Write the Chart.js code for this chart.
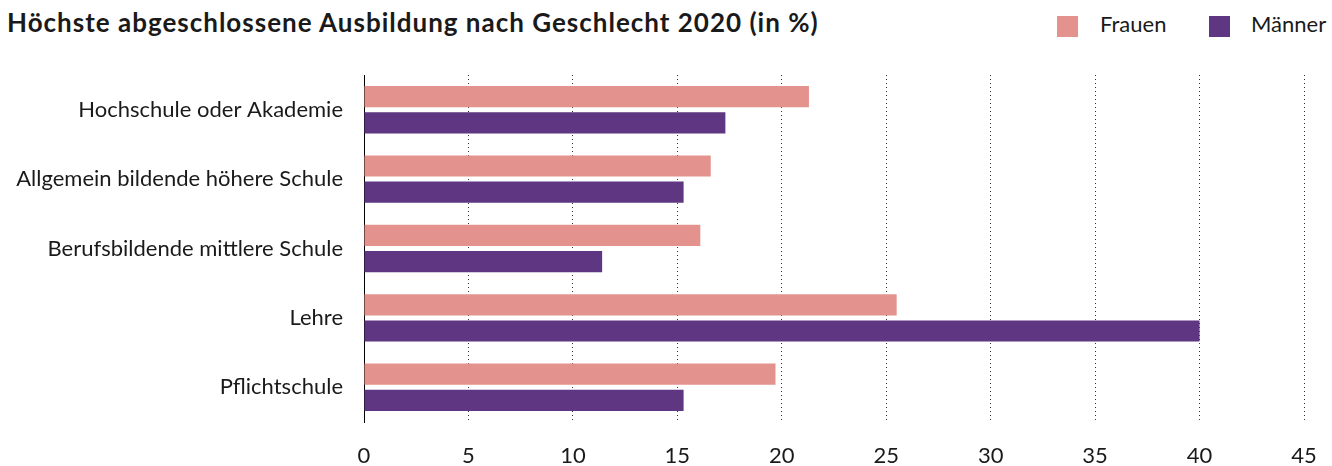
<!DOCTYPE html>
<html>
<head>
<meta charset="utf-8">
<script src="https://cdn.jsdelivr.net/npm/chart.js@4/dist/chart.umd.min.js"></script>
<style>
  body { margin: 0; background: #fff; font-family: Lato, sans-serif; color: #1a1a1a; }
  #wrap { position: relative; width: 1332px; height: 466px; }
  #title { position: absolute; left: 7px; top: 9px; font-size: 26px; line-height: 26px; font-weight: 700; letter-spacing: 1px; white-space: nowrap; }
  .legend { position: absolute; top: 13px; font-size: 22px; line-height: 22px; white-space: nowrap; }
  .box { position: absolute; top: 16px; width: 21px; height: 21px; }
  canvas { position: absolute; left: 0; top: 0; }
</style>
</head>
<body>
<div id="wrap">
  <div id="title">Höchste abgeschlossene Ausbildung nach Geschlecht 2020 (in %)</div>
  <div id="legend"></div>
  <canvas id="chart" width="1332" height="466"></canvas>
</div>
<script>
const categories = [
  'Hochschule oder Akademie',
  'Allgemein bildende höhere Schule',
  'Berufsbildende mittlere Schule',
  'Lehre',
  'Pflichtschule'
];
const frauen = [21.3, 16.6, 16.1, 25.5, 19.7];
const maenner = [17.3, 15.3, 11.4, 40.0, 15.3];
const seriesNames = ['Frauen', 'Männer'];
const colors = ['#e3928d', '#5e3681'];

// legend in html, same as the original layout (top right)
const legendPos = [{ box: 1057, text: 1100 }, { box: 1209, text: 1251 }];
const legendEl = document.getElementById('legend');
seriesNames.forEach((name, i) => {
  const box = document.createElement('div');
  box.className = 'box';
  box.style.left = legendPos[i].box + 'px';
  box.style.background = colors[i];
  const label = document.createElement('div');
  label.className = 'legend';
  label.style.left = legendPos[i].text + 'px';
  label.textContent = name;
  legendEl.appendChild(box);
  legendEl.appendChild(label);
});

const labelFont = { family: 'Lato', size: 22, lineHeight: 1 };

new Chart('chart', {
  type: 'bar',
  data: {
    labels: categories,
    datasets: [{
      label: seriesNames[0],
      data: frauen,
      backgroundColor: colors[0]
    }, {
      label: seriesNames[1],
      data: maenner,
      backgroundColor: colors[1]
    }]
  },
  options: {
    indexAxis: 'y',
    responsive: false,
    animation: false,
    categoryPercentage: 0.754,
    barPercentage: 0.81,
    layout: { padding: { top: 75, right: 28, left: 0, bottom: 0 } },
    plugins: {
      legend: { display: false },
      tooltip: { enabled: false }
    },
    scales: {
      x: {
        min: 0,
        max: 45,
        afterFit: (scale) => {
          scale.height = 44;
          scale.paddingLeft = 0;
          scale.paddingRight = 0;
        },
        ticks: { stepSize: 5, color: '#1a1a1a', font: labelFont, padding: 23 },
        grid: { color: '#333', lineWidth: 1, drawTicks: false },
        border: { display: false, dash: [1, 3] }
      },
      y: {
        afterFit: (scale) => { scale.width = 364; },
        ticks: { color: '#1a1a1a', font: labelFont, padding: 21 },
        grid: { display: false, drawTicks: false },
        border: { display: true, color: '#000', width: 1 }
      }
    }
  }
});
</script>
</body>
</html>
